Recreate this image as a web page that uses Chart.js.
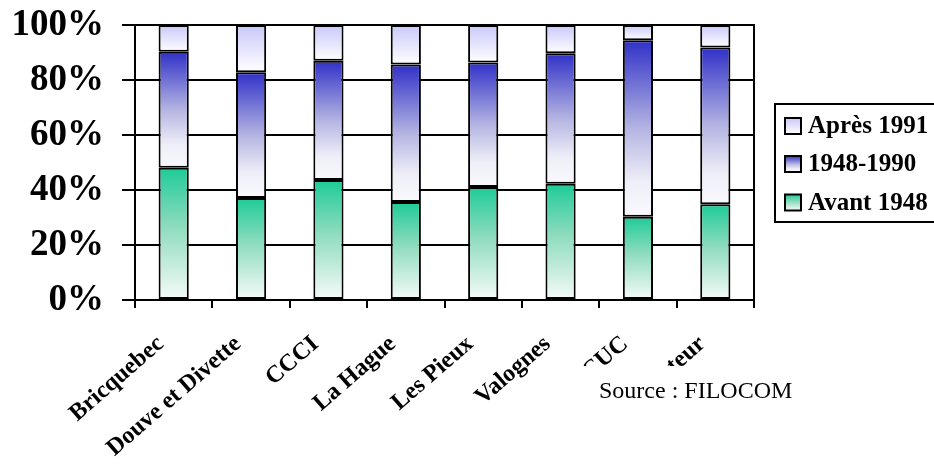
<!DOCTYPE html>
<html>
<head>
<meta charset="utf-8">
<script src="https://cdn.jsdelivr.net/npm/chart.js@4.4.1/dist/chart.umd.min.js"></script>
<style>
  html, body { margin: 0; padding: 0; background: #fff; }
  #wrap { width: 934px; height: 466px; }
</style>
</head>
<body>
<div id="wrap"><canvas id="c" width="934" height="466"></canvas></div>
<script>
// Age of the housing stock by territory (share of dwellings, %)
const categories = ['Bricquebec', 'Douve et Divette', 'CCCI', 'La Hague', 'Les Pieux', 'Valognes', 'CUC', 'Secteur'];
const avant1948 = [48.1, 37.1, 43.6, 35.6, 41.1, 42.3, 30.3, 34.8];
const de1948a1990 = [42.2, 45.7, 43.4, 50.0, 45.3, 47.4, 64.2, 57.0];
const apres1991 = [9.7, 17.2, 13.0, 14.4, 13.6, 10.3, 5.5, 8.2];
const seriesNames = ['Avant 1948', '1948-1990', 'Après 1991'];
const yTicks = [0, 20, 40, 60, 80, 100];
const sourceText = 'Source : FILOCOM';

const SERIF = "'Liberation Serif', 'Times New Roman', serif";

// vertical colour ramps for each series (top -> bottom)
const ramps = [
  [[0, '#1ecb98'], [0.45, '#8fdcbf'], [1, '#f6fbf9']],
  [[0, '#3030c8'], [0.5, '#b4b4e2'], [0.8, '#eeeef8'], [1, '#f9f9fd']],
  [[0, '#c8c8fa'], [1, '#ffffff']]
];

function makeGradient(ctx2d, y0, y1, ramp) {
  const g = ctx2d.createLinearGradient(0, y0, 0, y1);
  ramp.forEach(([o, c]) => g.addColorStop(o, c));
  return g;
}

function segmentFill(dsIndex) {
  return function (ctx) {
    const chart = ctx.chart;
    const y = chart.scales && chart.scales.y;
    if (ctx.type !== 'data' || !y || !chart.chartArea) return ramps[dsIndex][0][1];
    let base = 0;
    for (let d = 0; d < dsIndex; d++) base += chart.data.datasets[d].data[ctx.dataIndex];
    const top = base + chart.data.datasets[dsIndex].data[ctx.dataIndex];
    const py0 = y.getPixelForValue(top);
    const py1 = y.getPixelForValue(base);
    return makeGradient(chart.ctx, py0, py1, ramps[dsIndex]);
  };
}

// legend drawn as a framed box on the right, newest period first
const boxLegend = {
  id: 'boxLegend',
  afterDraw(chart) {
    const c = chart.ctx;
    c.save();
    c.lineWidth = 2;
    c.strokeStyle = '#000';
    c.strokeRect(775, 104, 170, 118);
    const rows = [126, 164, 202.5];
    const order = [2, 1, 0];
    c.font = 'bold 25px ' + SERIF;
    c.textBaseline = 'middle';
    c.textAlign = 'left';
    order.forEach((di, i) => {
      const cy = rows[i];
      const sx = 785, sz = 16;
      c.fillStyle = makeGradient(c, cy - sz / 2, cy + sz / 2, ramps[di]);
      c.fillRect(sx, cy - sz / 2, sz, sz);
      c.lineWidth = 2;
      c.strokeRect(sx, cy - sz / 2, sz, sz);
      c.fillStyle = '#000';
      c.fillText(chart.data.datasets[di].label, 808, cy + 1);
    });
    c.restore();
  }
};

// right-hand frame edge of the plot area
const plotFrame = {
  id: 'plotFrame',
  afterDatasetsDraw(chart) {
    const a = chart.chartArea, c = chart.ctx;
    c.save();
    c.strokeStyle = '#000';
    c.lineWidth = 2;
    c.beginPath();
    c.moveTo(a.right, a.top - 1);
    c.lineTo(a.right, a.bottom);
    c.stroke();
    c.restore();
  }
};

// source caption in a white box over the lower right
const sourceNote = {
  id: 'sourceNote',
  afterDraw(chart) {
    const c = chart.ctx;
    c.save();
    c.fillStyle = '#fff';
    c.fillRect(572, 366, 262, 100);
    c.fillStyle = '#000';
    c.font = '24px ' + SERIF;
    c.textBaseline = 'alphabetic';
    c.textAlign = 'left';
    c.fillText(sourceText, 599, 398);
    c.restore();
  }
};

const seriesData = [avant1948, de1948a1990, apres1991];

new Chart(document.getElementById('c'), {
  type: 'bar',
  data: {
    labels: categories,
    datasets: seriesData.map((arr, i) => ({
      label: seriesNames[i],
      data: arr,
      backgroundColor: segmentFill(i),
      borderColor: '#000',
      borderWidth: 2,
      borderSkipped: false,
      categoryPercentage: 1,
      barPercentage: 0.39
    }))
  },
  options: {
    responsive: false,
    devicePixelRatio: 1,
    animation: false,
    layout: { padding: { left: 0, top: 25, right: 180, bottom: 0 } },
    plugins: {
      legend: { display: false },
      tooltip: { enabled: false }
    },
    scales: {
      x: {
        stacked: true,
        offset: true,
        border: { color: '#000', width: 2 },
        grid: { drawOnChartArea: false, drawTicks: true, tickLength: 8, color: '#000', lineWidth: 2, offset: true },
        ticks: {
          color: '#000',
          font: { family: SERIF, size: 24, weight: 'bold' },
          minRotation: 41,
          maxRotation: 41,
          autoSkip: false,
          padding: 22,
          labelOffset: -13
        },
        afterFit(scale) {
          scale.height = 166;
          scale.paddingLeft = 0;
          scale.paddingRight = 0;
        }
      },
      y: {
        stacked: true,
        min: 0,
        max: 100,
        afterBuildTicks(scale) { scale.ticks = yTicks.map(v => ({ value: v })); },
        border: { color: '#000', width: 2 },
        grid: { color: '#000', lineWidth: 2, tickLength: 13 },
        ticks: {
          color: '#000',
          font: { family: SERIF, size: 37, weight: 'bold' },
          padding: 18,
          callback: v => v + '%'
        },
        afterFit(scale) {
          scale.width = 135;
          scale.paddingTop = 0;
          scale.paddingBottom = 0;
        }
      }
    }
  },
  plugins: [plotFrame, boxLegend, sourceNote]
});
</script>
</body>
</html>
